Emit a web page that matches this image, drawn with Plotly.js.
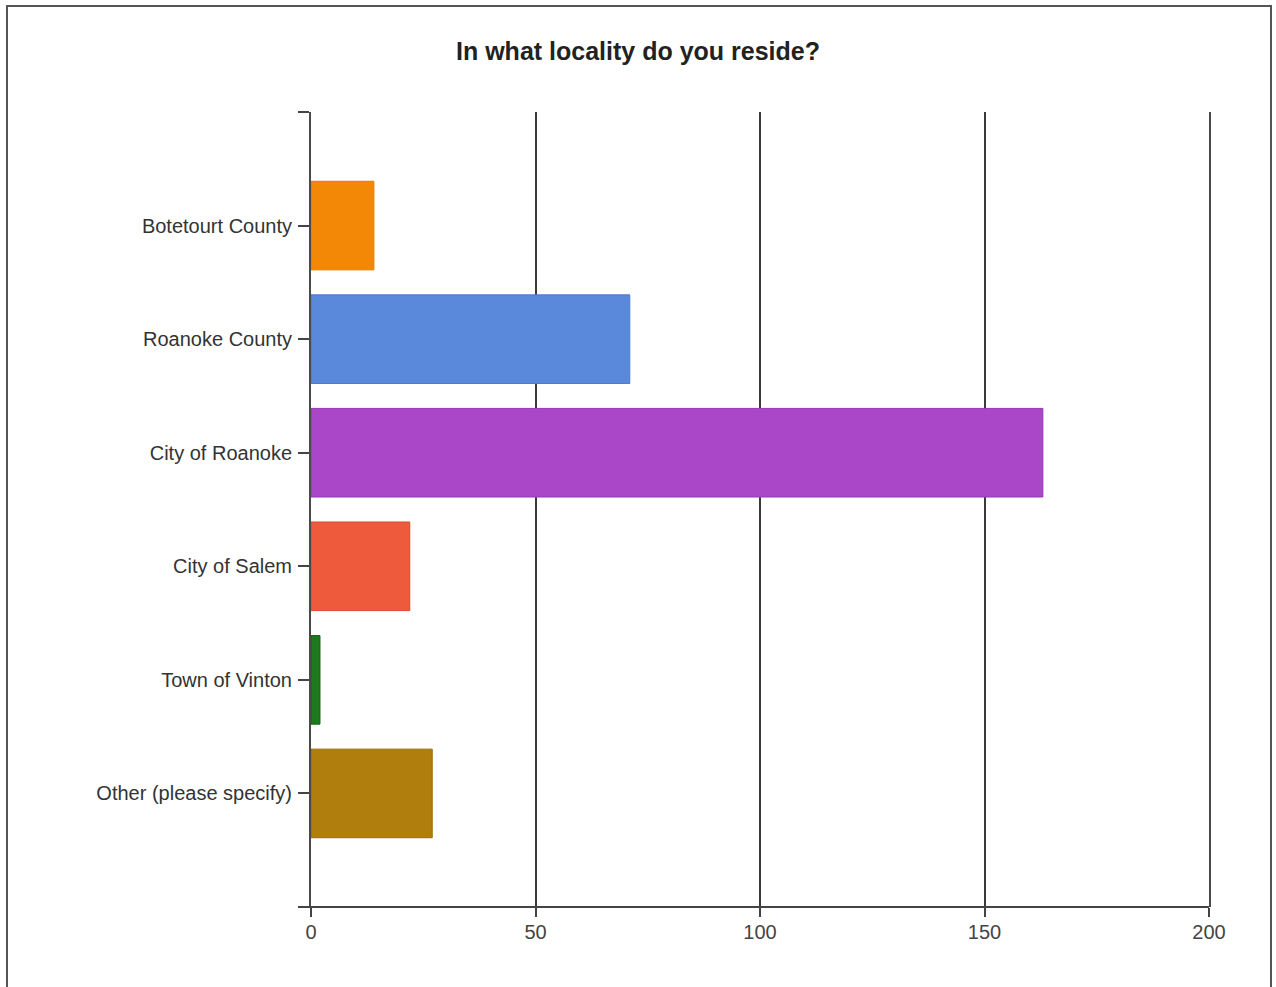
<!DOCTYPE html>
<html>
<head>
<meta charset="utf-8">
<script src="https://cdn.plot.ly/plotly-3.0.1.min.js"></script>
<style>
  html, body { margin: 0; padding: 0; background: #fff; }
  #wrap { position: relative; width: 1276px; height: 987px; overflow: hidden; }
  #chart { position: absolute; left: 0; top: 0; width: 1276px; height: 987px; }
  #frame { position: absolute; left: 6px; top: 5px; width: 1266px; height: 1000px;
           border: 2px solid #555; pointer-events: none; box-sizing: border-box; }
</style>
</head>
<body>
<div id="wrap">
  <div id="chart"></div>
  <div id="frame"></div>
</div>
<script>
const chartTitle = "In what locality do you reside?";
const categories = ["Botetourt County", "Roanoke County", "City of Roanoke", "City of Salem", "Town of Vinton", "Other (please specify)"];
const counts = [14, 71, 163, 22, 2, 27];
const barColors = ["#f28806", "#5a89dc", "#aa46c8", "#ee5a3c", "#1c7a1c", "#b07e0c"];
const barLineColors = ["#e07a00", "#4a78cc", "#9636b4", "#dc4a2e", "#106410", "#9a6c06"];
const xTickVals = [0, 50, 100, 150, 200];

const trace = {
  type: "bar",
  orientation: "h",
  x: counts,
  y: categories,
  width: 0.78,
  marker: { color: barColors, line: { color: barLineColors, width: 1 } },
  hoverinfo: "x+y"
};

const layout = {
  width: 1276,
  height: 987,
  margin: { l: 311, r: 67, t: 112, b: 80 },
  paper_bgcolor: "#ffffff",
  plot_bgcolor: "#ffffff",
  showlegend: false,
  title: {
    text: "<b>" + chartTitle + "</b>",
    font: { family: "Liberation Sans, Arial, sans-serif", size: 25, color: "#222" },
    x: 0.5, xanchor: "center", xref: "container",
    y: 1 - 51 / 987, yanchor: "middle", yref: "container"
  },
  xaxis: {
    range: [0, 200],
    tickvals: xTickVals,
    ticktext: xTickVals.map(String),
    ticks: "outside",
    ticklen: 9,
    tickwidth: 2,
    tickcolor: "#444",
    ticklabelstandoff: -2,
    showgrid: true,
    gridcolor: "#3a3a3a",
    gridwidth: 2,
    zeroline: false,
    showline: false,
    tickfont: { family: "Liberation Sans, Arial, sans-serif", size: 20, color: "#444" },
    fixedrange: true
  },
  yaxis: {
    type: "category",
    categoryorder: "array",
    categoryarray: categories,
    range: [6, -1],
    tickmode: "array",
    tickvals: [-1, 0, 1, 2, 3, 4, 5, 6],
    ticktext: [""].concat(categories, [""]),
    ticks: "outside",
    ticklen: 11,
    tickwidth: 2,
    tickcolor: "#444",
    ticklabelstandoff: 2,
    showline: true,
    mirror: true,
    linecolor: "#4a4a4a",
    linewidth: 2,
    showgrid: false,
    zeroline: false,
    tickfont: { family: "Liberation Sans, Arial, sans-serif", size: 20, color: "#333" },
    fixedrange: true
  },
  shapes: [
    { type: "line", xref: "paper", yref: "paper", x0: -12 / 898, x1: 1, y0: 0, y1: 0,
      line: { color: "#444", width: 2 } }
  ]
};

Plotly.newPlot("chart", [trace], layout, { displayModeBar: false, staticPlot: true });
</script>
</body>
</html>
